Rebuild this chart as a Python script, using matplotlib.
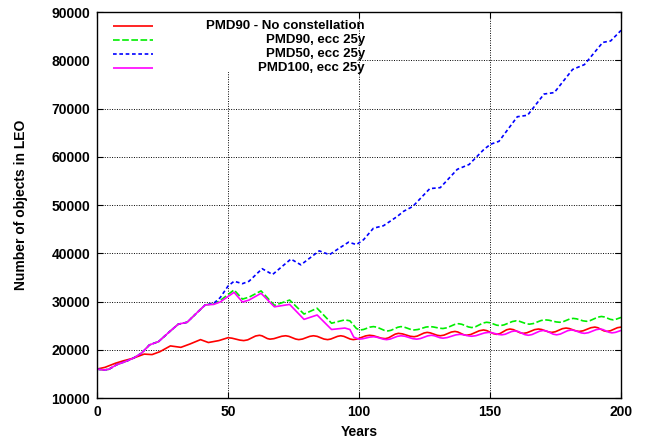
import matplotlib
matplotlib.use("Agg")
import matplotlib.pyplot as plt
from matplotlib.patches import Rectangle

plt.rcParams['font.family'] = ['Liberation Sans', 'DejaVu Sans']
plt.rcParams['font.weight'] = 'bold'

# values (years, number of objects)
red_years = [0, 3, 7, 10, 13.5, 18, 21, 24, 28, 32, 35.5, 39.5, 42.5, 46.5,
             50, 51.5, 54.5, 56, 57.5, 60.5, 62, 63, 65, 66, 67.5, 70.5, 72, 73.2, 75.8,
             77, 78.4, 81.2, 82.6, 84, 86.6, 88, 89.2, 91.8, 93, 94.2, 96.6, 97.8,
             99.3, 102.5, 104, 105.5, 108.5, 110, 111.2, 113.8, 115, 116.5, 119.5,
             121, 122.2, 124.8, 126, 127.2, 129.8, 131, 132.4, 135.2, 136.6, 137.7,
             139.9, 141, 142.6, 145.9, 147.5, 148.7, 151.3, 152.5, 153.8, 156.3,
             157.6, 158.9, 161.4, 162.7, 164.1, 167, 168.5, 169.7, 172.3, 173.5,
             174.9, 177.6, 179, 180.2, 182.8, 184, 185.5, 188.5, 190, 191.1, 193.4,
             194.5, 195.9, 198.6, 200]
red_vals = [16000, 16350, 17200, 17700, 18200, 19100, 19000, 19600, 20800, 20500,
            21200, 22100, 21500, 21900,
            22500, 22400, 22000, 21900, 22050, 22850, 23000, 22880, 22320, 22200,
            22300, 22800, 22900, 22780, 22220, 22100, 22220, 22780, 22900, 22780,
            22220, 22100, 22220, 22780, 22900, 22780, 22220, 22100, 22230, 22870,
            23000, 22900, 22400, 22300, 22460, 23240, 23400, 23300, 22800, 22700,
            22830, 23470, 23600, 23500, 23000, 22900, 23030, 23670, 23800, 23680,
            23120, 23000, 23160, 23940, 24100, 23970, 23330, 23200, 23360, 24140,
            24300, 24170, 23530, 23400, 23530, 24170, 24300, 24200, 23700, 23600,
            23730, 24370, 24500, 24400, 23900, 23800, 23930, 24570, 24700, 24570,
            23930, 23800, 23930, 24570, 24700]

early_years = [0, 2.5, 4.5, 7.5, 11.5, 14, 17, 20, 23.5, 28, 31, 34.4, 38, 41.3]
early_vals = [16000, 15800, 15950, 16900, 17700, 18300, 19300, 21000, 21700, 23900,
              25300, 25700, 27600, 29300]

green_years = early_years + [44.5, 47, 52.3, 55.5, 58, 62.6, 67.7, 73.5, 79, 84, 89.5,
                             94.6, 96.5, 99, 100.4, 101.7, 104.2, 105.5, 106.9, 109.6,
                             111, 112.2, 114.8, 116, 117.2, 119.8, 121, 122.5, 125.5,
                             127, 128.2, 130.8, 132, 133.5, 136.5, 138, 139.2, 141.8,
                             143, 144.4, 147.3, 148.7, 150, 152.5, 153.8, 155.3, 158.5,
                             160, 161.2, 163.8, 165, 166.5, 169.5, 171, 172.4, 175.2,
                             176.6, 177.9, 180.4, 181.7, 183, 185.5, 186.8, 188.2,
                             191.1, 192.5, 193.6, 195.9, 197, 198.2, 200]
green_vals = early_vals + [29500, 30200, 32400, 30500, 30900, 32200, 29200, 30300,
                           27400, 28600, 25500, 26200, 26000, 24400, 24100, 24200,
                           24700, 24800, 24670, 24030, 23900, 24030, 24670, 24800,
                           24700, 24200, 24100, 24200, 24700, 24800, 24740, 24460,
                           24400, 24550, 25250, 25400, 25280, 24720, 24600, 24760,
                           25540, 25700, 25600, 25100, 25000, 25150, 25850, 26000,
                           25900, 25400, 25300, 25430, 26070, 26200, 26130, 25770,
                           25700, 25820, 26380, 26500, 26410, 25990, 25900, 26050,
                           26750, 26900, 26800, 26300, 26200, 26350, 26700]

blue_years = early_years + [44.5, 47, 50, 52.3, 55.5, 58, 63, 67, 74, 77.8, 84.8, 88.7,
                            92, 96, 99, 101.7, 105.5, 109.3, 114.5, 117, 120.5, 127,
                            131, 137.5, 142, 147.6, 150.2, 153.4, 160.4, 164.3, 170.6,
                            174.5, 181.5, 186, 193, 196, 200]
blue_vals = early_vals + [29600, 30800, 33200, 34200, 33700, 34200, 36800, 35600,
                          38800, 37600, 40500, 39700, 40900, 42300, 41800, 42800,
                          45200, 45700, 47600, 48700, 49700, 53400, 53600, 57400,
                          58400, 61500, 62600, 63200, 68300, 68600, 73000, 73300,
                          78100, 79100, 83700, 84000, 86200]

magenta_years = early_years + [44.5, 47, 52.3, 55.5, 58, 62.6, 67.7, 73.5, 79, 84, 89.5,
                               94.6, 96.5, 98, 100, 101.4, 104.1, 105.5, 106.7, 109.3,
                               110.5, 111.9, 114.6, 116, 117.5, 120.5, 122, 123.4,
                               126.2, 127.6, 128.7, 130.9, 132, 133.6, 136.9, 138.5,
                               139.6, 141.9, 143, 144.6, 147.8, 149.4, 150.7, 153.2,
                               154.5, 155.8, 158.2, 159.5, 160.8, 163.3, 164.6, 166,
                               168.9, 170.3, 171.6, 174.1, 175.4, 176.8, 179.6, 181,
                               182.2, 184.8, 186, 187.5, 190.5, 192, 193.1, 195.4,
                               196.5, 197.8, 200]
magenta_vals = early_vals + [29400, 29900, 31900, 29900, 30300, 31700, 28900, 29400,
                             26300, 27200, 24200, 24500, 24200, 22600, 22200, 22280,
                             22620, 22700, 22610, 22190, 22100, 22220, 22780, 22900,
                             22800, 22300, 22200, 22320, 22880, 23000, 22910, 22490,
                             22400, 22520, 23080, 23200, 23140, 22860, 22800, 22920,
                             23480, 23600, 23530, 23170, 23100, 23220, 23780, 23900,
                             23770, 23130, 23000, 23150, 23850, 24000, 23870, 23230,
                             23100, 23250, 23950, 24100, 24000, 23500, 23400, 23530,
                             24170, 24300, 24180, 23620, 23500, 23600, 24000]

labels = ["PMD90 - No constellation", "PMD90, ecc 25y", "PMD50, ecc 25y",
          "PMD100, ecc 25y"]
colors = ["#ff0000", "#00ee00", "#0000ff", "#ff00ff"]
styles = [(0, ()), (0, (4, 1.5)), (0, (2.2, 1.6)), (0, ())]

fig = plt.figure(figsize=(6.49, 4.45), dpi=100)
ax = fig.add_axes([0.1495, 0.1056, 0.8075, 0.8674])

series = [(red_years, red_vals), (green_years, green_vals),
          (blue_years, blue_vals), (magenta_years, magenta_vals)]
for (xs, ys), c, ls in zip(series, colors, styles):
    ax.plot(xs, ys, color=c, linestyle=ls, linewidth=1.2)

ax.set_xlim(0, 200)
ax.set_ylim(10000, 90000)
ax.set_xticks([0, 50, 100, 150, 200])
ax.set_yticks(range(10000, 90001, 10000))
ax.grid(True, color='black', linestyle=(0, (1, 1.5)), linewidth=0.7)
ax.tick_params(direction='in', length=4, width=0.8, top=True, right=True,
               labelsize=10, pad=5)
for t in ax.get_xticklabels() + ax.get_yticklabels():
    t.set_fontweight('bold')
for s in ax.spines.values():
    s.set_linewidth(1.0)

ax.set_xlabel("Years", fontsize=10, fontweight='bold', labelpad=4)
ax.set_ylabel("Number of objects in LEO", fontsize=10, fontweight='bold', labelpad=17)

# gnuplot-style key: white box, samples left, labels right aligned
ax.add_patch(Rectangle((0, 0.845), 0.497, 0.155, transform=ax.transAxes,
                       facecolor='white', edgecolor='none', zorder=2.5))
rows = [0.963, 0.927, 0.891, 0.855]
for y, lab, c, ls in zip(rows, labels, colors, styles):
    ax.plot([0.0305, 0.107], [y, y], transform=ax.transAxes, color=c,
            linestyle=ls, linewidth=1.2, zorder=3)
    ax.text(0.511, y, lab, transform=ax.transAxes, ha='right', va='center',
            fontsize=9.5, fontweight='bold', zorder=3)

fig.savefig("out.png", dpi=100)
